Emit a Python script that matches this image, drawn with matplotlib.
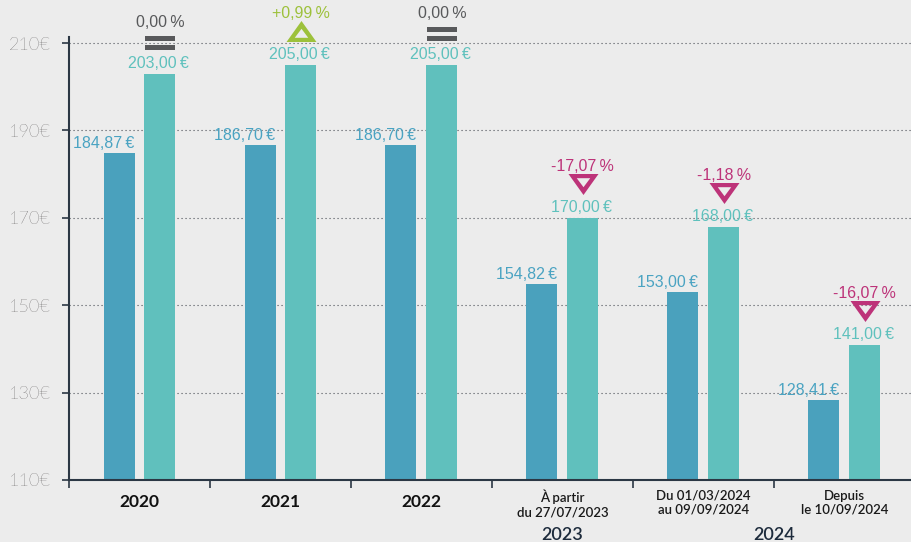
import matplotlib.pyplot as plt
from matplotlib.path import Path
from matplotlib.transforms import offset_copy

# Données
categories = ['2020', '2021', '2022', 'À partir\ndu 27/07/2023',
              'Du 01/03/2024\nau 09/09/2024', 'Depuis\nle 10/09/2024']
prix_avant = [184.87, 186.70, 186.70, 154.82, 153.00, 128.41]
prix_apres = [203.00, 205.00, 205.00, 170.00, 168.00, 141.00]
variation = [0.00, 0.99, 0.00, -17.07, -1.18, -16.07]
annees = ['2023', '2024']
annees_pos = [3, 4.5]
y_ticks = [110, 130, 150, 170, 190, 210]

BG = '#ececec'
DARK = '#4aa1bd'
LIGHT = '#60c0bd'
AXIS = '#2b3744'
COL_ZERO = '#58595b'
COL_UP = '#9dc13b'
COL_DOWN = '#bd3379'
NARROW = ['Liberation Sans', 'DejaVu Sans']
SP = '\u2009'  # espace fine

plt.rcParams['font.family'] = ['Lato', 'DejaVu Sans']

fig = plt.figure(figsize=(9.12, 5.42), dpi=100, facecolor=BG)
ax = fig.add_axes([69 / 912, 62 / 542, 843 / 912, 443 / 542])
ax.set_facecolor(BG)


def px(dy, tr=None):
    # décalage vertical en pixels
    return offset_copy(tr or ax.transData, fig=fig, y=dy, units='dots')


def fmt(v):
    return f'{v:.2f}'.replace('.', ',')


# marqueurs : signe égal, triangles évidés
def box(x0, x1, y0, y1):
    return [(x0, y0), (x1, y0), (x1, y1), (x0, y1), (x0, y0)]


codes_rect = [Path.MOVETO, Path.LINETO, Path.LINETO, Path.LINETO, Path.CLOSEPOLY]
eq_mark = Path(box(-1, 1, 0.13, 0.47) + box(-1, 1, -0.47, -0.13), codes_rect * 2)

tri_codes = [Path.MOVETO, Path.LINETO, Path.LINETO, Path.CLOSEPOLY]
down_v = [(-1, 0.7), (1, 0.7), (0, -0.7), (-1, 0.7),
          (-0.45, 0.42), (0, -0.18), (0.45, 0.42), (-0.45, 0.42)]
down_mark = Path(down_v, tri_codes * 2)
up_mark = Path([(a, -b) for a, b in down_v], tri_codes * 2)

xs = range(len(categories))
ax.bar([i - 0.145 for i in xs], prix_avant, width=0.22, color=DARK, zorder=2)
ax.bar([i + 0.145 for i in xs], prix_apres, width=0.22, color=LIGHT, zorder=2)

for i in xs:
    xa, xb = i - 0.145, i + 0.145
    ax.text(xa + 0.11, prix_avant[i], fmt(prix_avant[i]) + SP + '€', transform=px(5),
            ha='right', va='baseline', fontsize=11.5, color='#4aa3c2', family=NARROW, clip_on=False)
    ax.text(xb - 0.01, prix_apres[i], fmt(prix_apres[i]) + SP + '€', transform=px(6),
            ha='center', va='baseline', fontsize=11.5, color='#5fc1bd', family=NARROW, clip_on=False)

    p = variation[i]
    if p == 0:
        col, mk, lab, dy = COL_ZERO, eq_mark, '0,00' + SP + '%', 31
    elif p > 0:
        col, mk, lab, dy = COL_UP, up_mark, '+' + fmt(p) + SP + '%', 34
    else:
        col, mk, lab, dy = COL_DOWN, down_mark, fmt(p) + SP + '%', 34
    ax.plot([xb], [prix_apres[i]], marker=mk, ms=21.6, mew=0, color=col, ls='none',
            transform=px(dy), clip_on=False, zorder=3)
    ax.text(xb, prix_apres[i], lab, transform=px(47), ha='center', va='baseline',
            fontsize=11.5, color=col, family=NARROW, clip_on=False)

# axes
ax.set_xlim(-0.5, 5.48)
ax.set_ylim(110, 211.4)
ax.set_yticks(y_ticks)
ax.set_yticklabels([f'{v}€' for v in y_ticks], fontsize=13, fontweight='light', color='#231f20')
ax.set_xticks([i - 0.5 for i in xs])
ax.set_xticklabels([])
ax.tick_params(axis='y', length=5, width=1.2, color=AXIS, pad=8)
ax.tick_params(axis='x', length=5.8, width=1.2, color=AXIS)
ax.set_axisbelow(True)
ax.yaxis.grid(True, linestyle=(0, (1, 2.6)), color='#4b4f58', lw=0.8)
for s in ['top', 'right']:
    ax.spines[s].set_visible(False)
for s in ['left', 'bottom']:
    ax.spines[s].set_color(AXIS)
    ax.spines[s].set_linewidth(1.5)

xtr = ax.get_xaxis_transform()
for i, c in enumerate(categories):
    if '\n' in c:
        ax.text(i, 0, c, transform=px(-10, xtr), ha='center', va='top', fontsize=9.5,
                fontweight='semibold', color='#1a1a1a', linespacing=1.2, clip_on=False)
    else:
        ax.text(i, 0, c, transform=px(-27, xtr), ha='center', va='baseline', fontsize=12.5,
                fontweight='bold', color='#111111', clip_on=False)
for a, xp in zip(annees, annees_pos):
    ax.text(xp, 0, a, transform=px(-60, xtr), ha='center', va='baseline', fontsize=13,
            fontweight='semibold', color='#1d2b3c', clip_on=False)

fig.savefig('out.png', dpi=100, facecolor=BG)
